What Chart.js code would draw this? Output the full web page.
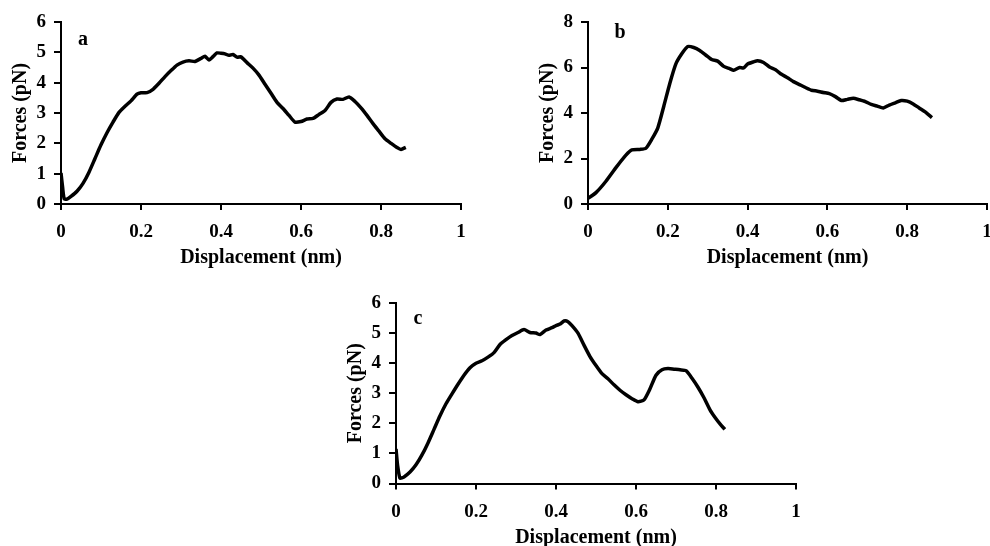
<!DOCTYPE html>
<html>
<head>
<meta charset="utf-8">
<script src="https://cdn.jsdelivr.net/npm/chart.js@4.4.1/dist/chart.umd.min.js"></script>
<style>
html,body{margin:0;padding:0;background:#fff;width:990px;height:546px;overflow:hidden;position:relative;}
canvas{position:absolute;}
</style>
</head>
<body>
<canvas id="chartA" width="480" height="270" style="left:0;top:0"></canvas>
<canvas id="chartB" width="463" height="270" style="left:527px;top:0"></canvas>
<canvas id="chartC" width="480" height="270" style="left:335px;top:280px"></canvas>
<script>

/* DATA */

const xTicks=[0,0.2,0.4,0.6,0.8,1];

const dispA=[0,0.004,0.008,0.015,0.025,0.04,0.055,0.07,0.085,0.1,0.115,0.13,0.145,0.16,0.175,0.19,0.2,0.215,0.23,0.245,0.26,0.275,0.29,0.305,0.32,0.335,0.35,0.36,0.37,0.38,0.39,0.4,0.41,0.42,0.43,0.44,0.45,0.465,0.48,0.495,0.51,0.525,0.54,0.555,0.57,0.585,0.6,0.615,0.63,0.645,0.66,0.675,0.69,0.705,0.72,0.735,0.75,0.765,0.78,0.795,0.81,0.825,0.84,0.85,0.862];
const forceA=[1.02,0.55,0.17,0.16,0.25,0.42,0.68,1.05,1.5,1.95,2.35,2.7,3.02,3.22,3.4,3.62,3.67,3.67,3.78,3.98,4.2,4.4,4.58,4.68,4.72,4.7,4.8,4.87,4.75,4.86,4.98,4.97,4.95,4.9,4.93,4.84,4.85,4.66,4.48,4.25,3.95,3.65,3.35,3.15,2.92,2.7,2.72,2.8,2.82,2.95,3.08,3.35,3.46,3.45,3.53,3.38,3.17,2.92,2.65,2.4,2.15,2.0,1.86,1.8,1.87];

const dispB=[0,0.02,0.045,0.07,0.095,0.11,0.13,0.145,0.16,0.175,0.19,0.205,0.22,0.235,0.25,0.265,0.28,0.295,0.31,0.325,0.34,0.355,0.365,0.38,0.39,0.4,0.415,0.425,0.44,0.455,0.47,0.485,0.5,0.515,0.53,0.545,0.56,0.575,0.59,0.605,0.62,0.635,0.65,0.665,0.68,0.695,0.71,0.725,0.74,0.755,0.77,0.785,0.8,0.815,0.83,0.845,0.862];
const forceB=[0.25,0.5,1.0,1.6,2.15,2.38,2.4,2.45,2.85,3.35,4.3,5.3,6.15,6.6,6.92,6.88,6.75,6.55,6.35,6.28,6.05,5.95,5.88,6.0,5.98,6.15,6.25,6.3,6.22,6.02,5.9,5.7,5.55,5.38,5.25,5.12,5.0,4.96,4.9,4.85,4.72,4.55,4.6,4.65,4.58,4.5,4.38,4.3,4.22,4.35,4.45,4.55,4.52,4.4,4.22,4.05,3.8];

const dispC=[0,0.004,0.01,0.02,0.035,0.05,0.065,0.08,0.095,0.11,0.125,0.14,0.155,0.17,0.185,0.2,0.215,0.23,0.245,0.26,0.275,0.29,0.305,0.32,0.335,0.35,0.36,0.375,0.39,0.4,0.41,0.42,0.43,0.44,0.455,0.47,0.485,0.5,0.515,0.53,0.545,0.56,0.575,0.59,0.605,0.62,0.635,0.65,0.665,0.68,0.695,0.71,0.725,0.74,0.755,0.77,0.785,0.8,0.81,0.822];
const forceC=[1.15,0.6,0.18,0.22,0.38,0.62,0.95,1.35,1.8,2.25,2.65,2.98,3.3,3.6,3.85,4.0,4.08,4.2,4.35,4.62,4.78,4.92,5.02,5.12,5.02,5.0,4.95,5.1,5.18,5.25,5.3,5.4,5.38,5.25,5.0,4.6,4.22,3.92,3.65,3.48,3.28,3.1,2.95,2.82,2.72,2.78,3.15,3.6,3.78,3.82,3.8,3.78,3.75,3.5,3.2,2.85,2.45,2.15,1.98,1.8];


/* PANEL LETTER */

const letterPlugin={
id:"panelLetter",
afterDraw(chart,args,opts){
const a=chart.chartArea;
const c=chart.ctx;
c.save();
c.font="bold 20px 'Liberation Serif'";
c.fillStyle="#000";
c.textAlign="center";
c.textBaseline="middle";
c.fillText(opts.text,a.left+opts.dx,a.top+opts.dy);
c.restore();
}
};


/* CHART BUILDER */

const tickFont={family:"'Liberation Serif'",size:19,weight:"bold"};
const titleFont={family:"'Liberation Serif'",size:20,weight:"bold"};

function makeChart(id,xs,ys,yMax,yStep,letter,lx,ly,pad){

return new Chart(document.getElementById(id),{
type:"line",
data:{
datasets:[
{
data:xs.map((x,i)=>({x:x,y:ys[i]})),
borderColor:"#000",
borderWidth:3.5,
pointRadius:0,
tension:0.2,
fill:false
}
]
},
options:{
responsive:false,
animation:false,
layout:{padding:{left:0,top:pad.top,right:pad.right,bottom:0}},
plugins:{
legend:{display:false},
tooltip:{enabled:false},
panelLetter:{text:letter,dx:lx,dy:ly}
},
scales:{
x:{
type:"linear",
min:0,
max:1,
afterBuildTicks:s=>{s.ticks=xTicks.map(v=>({value:v}));},
ticks:{color:"#000",font:tickFont,padding:11,maxRotation:0,autoSkip:false,callback:v=>String(+v.toFixed(1))},
grid:{drawOnChartArea:false,color:"#000",lineWidth:2,tickLength:6},
border:{color:"#000",width:2},
title:{display:true,text:"Displacement (nm)",color:"#000",font:titleFont,padding:{top:5,bottom:0}},
afterFit:s=>{s.height=pad.xh;s.paddingLeft=0;s.paddingRight=0;}
},
y:{
min:0,
max:yMax,
ticks:{stepSize:yStep,color:"#000",font:tickFont,padding:8},
grid:{drawOnChartArea:false,color:"#000",lineWidth:2,tickLength:7},
border:{color:"#000",width:2},
title:{display:true,text:"Forces (pN)",color:"#000",font:titleFont,padding:{top:9,bottom:0}},
afterFit:s=>{s.width=61;s.paddingTop=0;s.paddingBottom=0;}
}
}
},
plugins:[letterPlugin]
});

}


/* DRAW */

makeChart("chartA",dispA,forceA,6,1,"a",22,18,{top:22,right:19,xh:66});
makeChart("chartB",dispB,forceB,8,2,"b",32,11,{top:22,right:3,xh:66});
makeChart("chartC",dispC,forceC,6,1,"c",22,16,{top:23,right:19,xh:66.5});

</script>
</body>
</html>
